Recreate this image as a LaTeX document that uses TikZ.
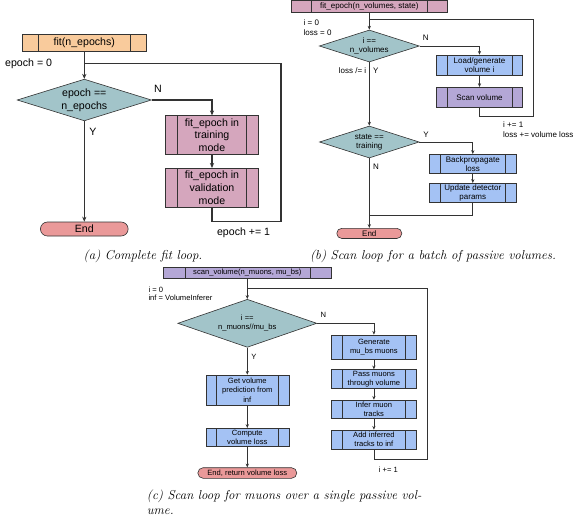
\documentclass[tikz,border=0pt]{standalone}
\usepackage{fontspec}
\newfontfamily\arialf{Liberation Sans}
\usetikzlibrary{arrows.meta,shapes.geometric}
\definecolor{cOrange}{HTML}{F9CB9C}
\definecolor{cTeal}{HTML}{A2C4C9}
\definecolor{cPink}{HTML}{D5A6BD}
\definecolor{cBlue}{HTML}{A4C2F4}
\definecolor{cPurple}{HTML}{B4A7D6}
\definecolor{cRed}{HTML}{EA9999}
\definecolor{cLine}{HTML}{333333}
\begin{document}
\begin{tikzpicture}[x=1pt,y=-1pt,
  fa/.style={font=\arialf\fontsize{10.6}{12.7}\selectfont, inner sep=0pt, align=center},
  fb/.style={font=\arialf\fontsize{8}{9}\selectfont, inner sep=0pt, align=center},
  fc/.style={font=\arialf\fontsize{7.6}{9.3}\selectfont, inner sep=0pt, align=center},
  box/.style={draw=cLine, line width=0.6pt, inner sep=0pt, align=center,
     path picture={\draw[cLine, line width=0.6pt]
        ([xshift=#1]path picture bounding box.north west) -- ([xshift=#1]path picture bounding box.south west)
        ([xshift=-#1]path picture bounding box.north east) -- ([xshift=-#1]path picture bounding box.south east);}},
  box/.default=11pt,
  dia/.style={draw=cLine, line width=0.6pt, fill=cTeal, diamond, inner sep=0pt},
  term/.style={draw=cLine, line width=0.6pt, fill=cRed, rounded corners=#1, inner sep=0pt, align=center},
  conna/.style={draw=cLine, line width=1.1pt},
  arra/.style={conna, -{Stealth[length=5pt,width=4.2pt]}},
  conn/.style={draw=cLine, line width=0.75pt},
  arr/.style={conn, -{Stealth[length=3.8pt,width=3.2pt]}},
  captxt/.style={font=\itshape\fontsize{12.9}{15}\selectfont, inner sep=0pt},
]
\useasboundingbox[fill=white] (0,0) rectangle (575,517);

% ---------------- (a) ----------------
\node[box=15.5pt, fill=cOrange, minimum width=123.3pt, minimum height=16.7pt, fa] (fitA) at (84.3,42.7) {fit(n\_epochs)};
\node[dia, minimum width=134.3pt, minimum height=41.7pt] (dA) at (84.3,100) {};
\node[fa] (tA) at (dA.center) {epoch ==\\n\_epochs};
\node[box=11.6pt, fill=cPink, minimum width=92.6pt, minimum height=38.6pt, fa] (trA) at (212,135) {fit\_epoch in\\training\\mode};
\node[box=11.6pt, fill=cPink, minimum width=92.6pt, minimum height=39pt, fa] (valA) at (212,187.8) {fit\_epoch in\\validation\\mode};
\node[term=7pt, minimum width=87.7pt, minimum height=14pt, fa] (endA) at (84.3,229) {End};
\coordinate (jA) at (84.3,63.3);
\coordinate (cA) at (281,221.7);
\draw[arra] (fitA.south) -- (dA.north);
\draw[conna] (valA.south) |- (cA) |- (jA);
\draw[arra] (dA.east) -| (trA.north);
\draw[arra] (trA.south) -- (valA.north);
\draw[arra] (dA.south) -- (endA.north);
\node[fa, anchor=west] (lA1) at (5,63.3) {epoch = 0};
\node[fa] (nA) at (158,89) {N};
\node[fa] (yA) at (93,131.7) {Y};
\node[fa] (incA) at (243.6,233) {epoch += 1};
\node[captxt, anchor=base] (capA) at (143,259) {(a) Complete fit loop.};

% ---------------- (b) ----------------
\node[box=20pt, fill=cPink, minimum width=155.6pt, minimum height=12pt, fb] (fitB) at (369.3,6.3) {fit\_epoch(n\_volumes, state)};
\node[dia, minimum width=100pt, minimum height=32pt] (dB1) at (369.3,46) {};
\node[fb] (tB1) at (dB1.center) {i ==\\n\_volumes};
\node[box=10.5pt, fill=cBlue, minimum width=85.6pt, minimum height=20pt, fb] (loadB) at (479.5,65) {Load/generate\\volume i};
\node[box=10.5pt, fill=cPurple, minimum width=85.6pt, minimum height=20.2pt, fb] (scanB) at (479.5,97.4) {Scan volume};
\node[dia, minimum width=99.7pt, minimum height=32pt] (dB2) at (369.3,142) {};
\node[fb] (tB2) at (dB2.center) {state ==\\training};
\node[box=11.3pt, fill=cBlue, minimum width=87pt, minimum height=19pt, fb] (bpB) at (472.8,163.8) {Backpropagate\\loss};
\node[box=11.3pt, fill=cBlue, minimum width=87pt, minimum height=19.2pt, fb] (updB) at (472.8,192.9) {Update detector\\params};
\node[term=5pt, minimum width=65pt, minimum height=10.2pt, fb] (endB) at (369.3,233.4) {End};
\coordinate (jB1) at (369.3,19);
\coordinate (cB1) at (533,116.3);
\coordinate (jB2) at (369.3,215);
\draw[arr] (fitB.south) -- (dB1.north);
\draw[conn] (scanB.south) |- (cB1) |- (jB1);
\draw[arr] (dB1.east) -| (loadB.north);
\draw[arr] (loadB.south) -- (scanB.north);
\draw[arr] (dB1.south) -- (dB2.north);
\draw[arr] (dB2.east) -| (bpB.north);
\draw[arr] (bpB.south) -- (updB.north);
\draw[conn] (updB.south) |- (jB2);
\draw[arr] (dB2.south) -- (endB.north);
\node[fb, anchor=west] (lB1) at (303.5,22.7) {i = 0};
\node[fb, anchor=west] (lB2) at (303.5,32.3) {loss = 0};
\node[fb] (nB1) at (425.7,37.7) {N};
\node[fb, anchor=west] (lB3) at (338.7,71) {loss /= i};
\node[fb] (yB1) at (375.7,71) {Y};
\node[fb, anchor=west] (lB4) at (503,124.5) {i += 1};
\node[fb, anchor=west] (lB5) at (503,135) {loss += volume loss};
\node[fb] (yB2) at (426,135) {Y};
\node[fb] (nB2) at (376,166.5) {N};
\node[captxt, anchor=base] (capB) at (433,259) {(b) Scan loop for a batch of passive volumes.};

% ---------------- (c) ----------------
\node[box=21.7pt, fill=cPurple, minimum width=168.4pt, minimum height=11pt, fc] (scanC) at (247.3,272.8) {scan\_volume(n\_muons, mu\_bs)};
\node[dia, minimum width=139pt, minimum height=48pt] (dC) at (247.3,323.3) {};
\node[fc] (tC) at (dC.center) {i ==\\n\_muons//mu\_bs};
\node[box=11pt, fill=cBlue, minimum width=84.8pt, minimum height=24.3pt, fc] (genC) at (373.9,347.1) {Generate\\mu\_bs muons};
\node[box=11pt, fill=cBlue, minimum width=84.8pt, minimum height=18.7pt, fc] (passC) at (373.9,379) {Pass muons\\through volume};
\node[box=11pt, fill=cBlue, minimum width=84.8pt, minimum height=18.3pt, fc] (infC) at (373.9,409.2) {Infer muon\\tracks};
\node[box=11pt, fill=cBlue, minimum width=84.8pt, minimum height=19pt, fc] (addC) at (373.9,439.5) {Add inferred\\tracks to inf};
\node[box=10.7pt, fill=cBlue, minimum width=83pt, minimum height=30pt, fc] (getC) at (247.3,390) {Get volume\\prediction from\\inf};
\node[box=10.7pt, fill=cBlue, minimum width=83pt, minimum height=18.4pt, fc] (compC) at (247.3,437.5) {Compute\\volume loss};
\node[term=5.3pt, minimum width=99pt, minimum height=10.6pt, fc] (endC) at (247.3,473) {End, return volume loss};
\coordinate (jC) at (247.3,288.3);
\coordinate (cC) at (427,459);
\draw[arr] (scanC.south) -- (dC.north);
\draw[conn] (addC.south) |- (cC) |- (jC);
\draw[arr] (dC.east) -| (genC.north);
\draw[arr] (genC.south) -- (passC.north);
\draw[arr] (passC.south) -- (infC.north);
\draw[arr] (infC.south) -- (addC.north);
\draw[arr] (dC.south) -- (getC.north);
\draw[arr] (getC.south) -- (compC.north);
\draw[arr] (compC.south) -- (endC.north);
\node[fc, anchor=west] (lC1) at (148.3,290) {i = 0};
\node[fc, anchor=west] (lC2) at (148.3,297.7) {inf = VolumeInferer};
\node[fc] (nC) at (323.3,314.7) {N};
\node[fc] (yC) at (254,356.7) {Y};
\node[fc] (incC) at (388.3,470) {i += 1};
\node[captxt, anchor=north west, align=left] (capC) at (146.7,490) {(c) Scan loop for muons over a single passive vol-\\ume.};
\end{tikzpicture}
\end{document}
